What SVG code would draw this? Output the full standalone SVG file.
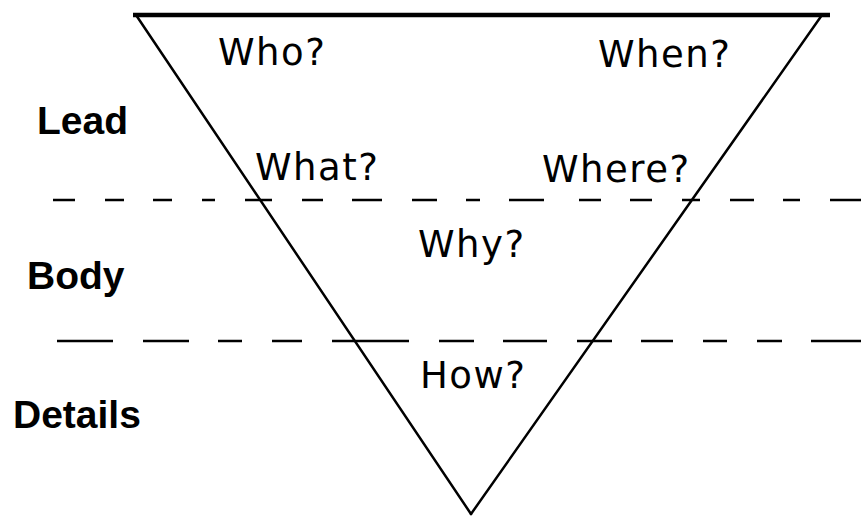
<svg xmlns="http://www.w3.org/2000/svg" width="861" height="519" viewBox="0 0 861 519">
<style>
.q{font-family:"DejaVu Sans","Liberation Sans",sans-serif;font-size:37px;fill:#000;letter-spacing:1.5px}
.lbl{font-family:"Liberation Sans",Arial,sans-serif;font-weight:bold;font-size:39px;fill:#000}
.edge{stroke:#000;stroke-width:2.5;fill:none;stroke-linecap:round}
.dash{stroke:#000;stroke-width:2.5;fill:none}
</style>
<rect width="861" height="519" fill="#fff"/>
<g id="connectors">
<line class="edge" x1="133" y1="15" x2="830" y2="15" style="stroke-width:4.5;stroke-linecap:butt"/>
<line class="edge" x1="136" y1="15" x2="471" y2="514"/>
<line class="edge" x1="822" y1="15" x2="471" y2="514"/>
<path class="dash" d="M53 200H75M105 200H124M153 200H172M202 200H215M245 200H272M302 200H323M352 200H382M412 200H437M466 200H480M509 200H544M579 200H601M630 200H652M682 200H700M730 200H754M783 200H800M830 200H861"/>
<path class="dash" d="M57 341H113M143 341H189M218 341H242M272 341H302M332 341H409M439 341H474M503 341H547M577 341H612M641 341H673M703 341H727M757 341H782M811 341H861"/>
</g>
<g id="lead"><text class="lbl" x="37" y="134">Lead</text></g>
<g id="body"><text class="lbl" x="27" y="289">Body</text></g>
<g id="details"><text class="lbl" x="13" y="428">Details</text></g>
<g id="who"><text class="q" x="218" y="65">Who?</text></g>
<g id="when"><text class="q" x="598" y="67">When?</text></g>
<g id="what"><text class="q" x="255" y="180">What?</text></g>
<g id="where"><text class="q" x="542" y="182">Where?</text></g>
<g id="why"><text class="q" x="418" y="257">Why?</text></g>
<g id="how"><text class="q" x="420" y="388">How?</text></g>
</svg>
